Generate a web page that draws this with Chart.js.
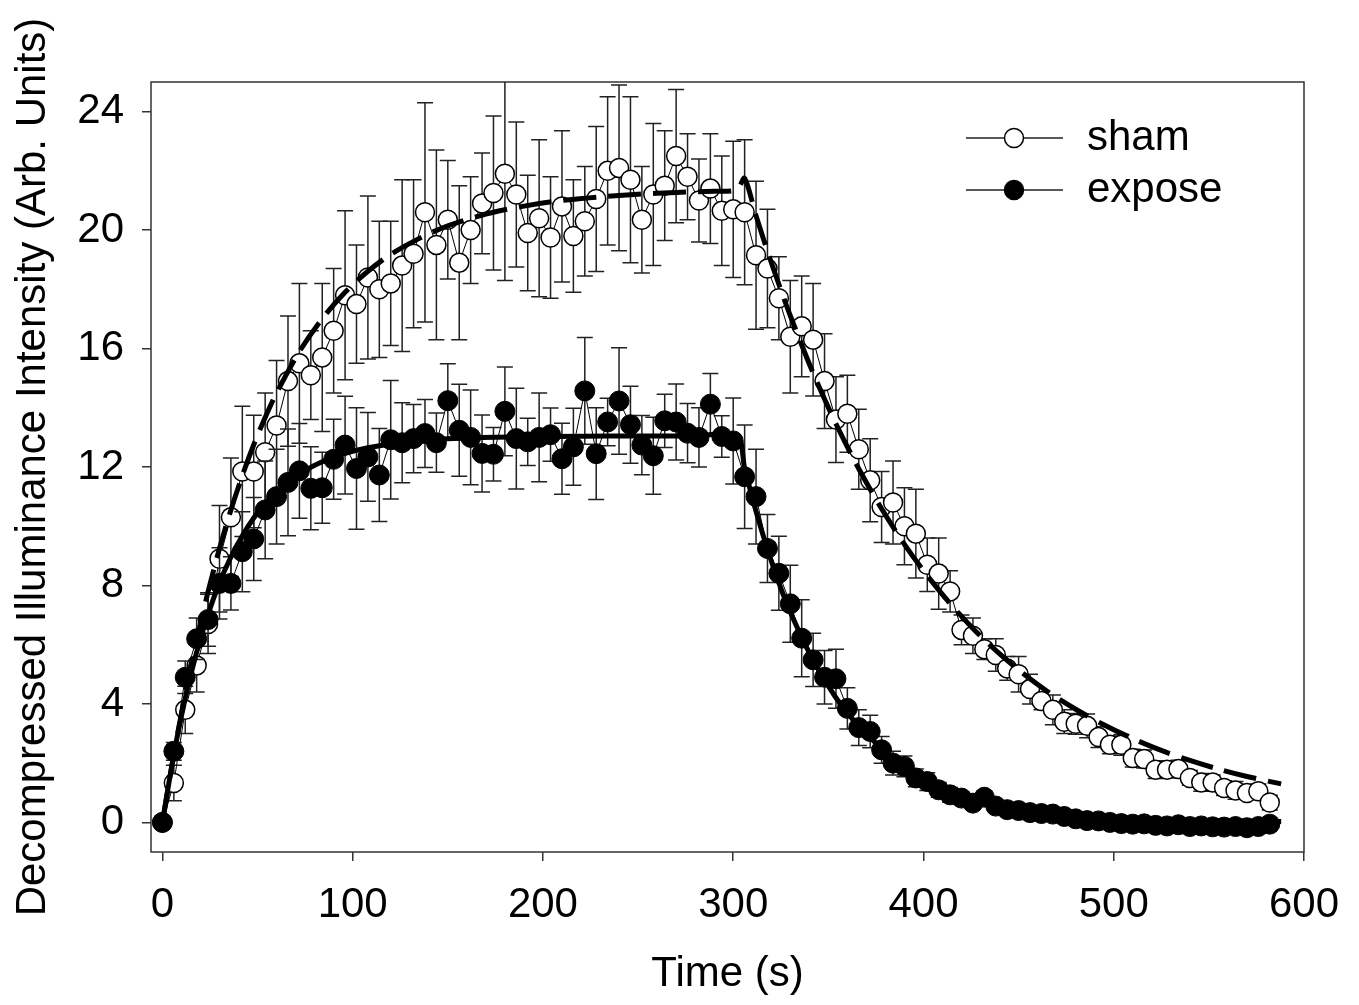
<!DOCTYPE html>
<html>
<head>
<meta charset="utf-8">
<script src="https://cdn.jsdelivr.net/npm/chart.js@4.4.1/dist/chart.umd.min.js"></script>
<style>
  body { margin: 0; background: #fff; }
  canvas { display: block; }
</style>
</head>
<body>
<canvas id="chart" width="1359" height="1005"></canvas>
<script>
// sample times (s)
const times = [0, 6, 12, 18, 24, 30, 36, 42, 48, 54, 60, 66, 72, 78, 84, 90, 96, 102, 108, 114,
  120, 126, 132, 138, 144, 150, 156, 162, 168, 174, 180, 186, 192, 198, 204, 210, 216, 222, 228, 234,
  240, 246, 252, 258, 264, 270, 276, 282, 288, 294, 300, 306, 312, 318, 324, 330, 336, 342, 348, 354,
  360, 366, 372, 378, 384, 390, 396, 402, 408, 414, 420, 426, 432, 438, 444, 450, 456, 462, 468, 474,
  480, 486, 492, 498, 504, 510, 516, 522, 528, 534, 540, 546, 552, 558, 564, 570, 576, 582];

const shamMean = [0, 1.33, 3.8, 5.3, 6.7, 8.9, 10.3, 11.85, 11.85, 12.5, 13.4, 14.9, 15.5, 15.1, 15.7, 16.6, 17.8, 17.5, 18.4, 18.0,
  18.2, 18.8, 19.2, 20.6, 19.5, 20.35, 18.9, 20.0, 20.9, 21.25, 21.9, 21.2, 19.9, 20.4, 19.75, 20.8, 19.8, 20.3, 21.05, 22.0,
  22.1, 21.7, 20.35, 21.2, 21.5, 22.5, 21.8, 21.0, 21.4, 20.65, 20.7, 20.6, 19.15, 18.7, 17.7, 16.4, 16.75, 16.3, 14.9, 13.6,
  13.8, 12.6, 11.55, 10.65, 10.8, 10.0, 9.75, 8.7, 8.4, 7.8, 6.5, 6.3, 5.85, 5.65, 5.2, 5.0, 4.5, 4.1, 3.8, 3.4,
  3.33, 3.26, 2.88, 2.62, 2.62, 2.17, 2.14, 1.78, 1.78, 1.8, 1.5, 1.35, 1.35, 1.16, 1.08, 0.99, 1.05, 0.67];

const shamErr = [0, 0.6, 0.8, 0.9, 1.0, 1.8, 2.0, 2.2, 1.9, 2.0, 2.2, 2.2, 2.7, 1.5, 2.5, 2.1, 2.85, 2.0, 2.75, 2.3,
  2.1, 2.9, 2.5, 3.7, 3.2, 2.0, 2.6, 1.8, 1.7, 2.6, 3.6, 2.45, 1.95, 2.65, 2.05, 2.55, 1.9, 1.85, 2.45, 2.5,
  2.8, 2.8, 1.8, 2.4, 1.85, 2.25, 1.45, 1.4, 1.85, 1.85, 2.3, 2.45, 2.5, 2.0, 1.4, 1.9, 1.7, 1.9, 1.6, 1.45,
  1.3, 1.35, 1.4, 1.2, 1.4, 1.3, 1.5, 0.9, 1.2, 0.7, 0.5, 0.6, 0.35, 0.55, 0.4, 0.6, 0.5, 0.3, 0.5, 0.4,
  0.35, 0.4, 0.35, 0.3, 0.35, 0.3, 0.3, 0.3, 0.25, 0.3, 0.25, 0.3, 0.25, 0.25, 0.3, 0.2, 0.25, 0.25];

const exposeMean = [0, 2.4, 4.9, 6.2, 6.85, 8.07, 8.07, 9.14, 9.57, 10.55, 11.0, 11.48, 11.87, 11.28, 11.3, 12.26, 12.74, 11.95, 12.34, 11.73,
  12.92, 12.82, 12.96, 13.13, 12.82, 14.24, 13.24, 13.0, 12.46, 12.43, 13.88, 12.96, 12.85, 13.0, 13.09, 12.28, 12.68, 14.57, 12.45, 13.52,
  14.23, 13.43, 12.74, 12.38, 13.56, 13.52, 13.14, 13.0, 14.12, 13.03, 12.88, 11.67, 11.0, 9.25, 8.41, 7.38, 6.22, 5.49, 4.9, 4.85,
  3.85, 3.2, 3.07, 2.45, 2.0, 1.89, 1.5, 1.38, 1.1, 0.93, 0.82, 0.65, 0.85, 0.55, 0.43, 0.4, 0.33, 0.3, 0.28, 0.2,
  0.12, 0.06, 0.05, 0.0, -0.04, -0.06, -0.05, -0.1, -0.12, -0.08, -0.14, -0.12, -0.15, -0.16, -0.14, -0.18, -0.14, -0.06];

const exposeErr = [0, 0.3, 0.55, 0.7, 0.9, 1.2, 0.9, 1.35, 1.4, 1.65, 1.6, 1.8, 1.6, 1.4, 1.2, 1.35, 1.65, 2.05, 1.5, 1.57,
  2.0, 1.35, 1.15, 1.15, 1.0, 1.25, 1.55, 1.6, 1.3, 0.9, 1.5, 1.7, 0.8, 1.5, 0.9, 1.2, 1.3, 1.8, 1.55, 0.8,
  1.8, 1.3, 1.0, 1.3, 0.9, 1.28, 1.0, 1.0, 1.04, 0.7, 1.45, 1.75, 1.6, 1.15, 1.25, 1.3, 1.3, 0.9, 0.9, 1.0,
  0.7, 0.6, 0.55, 0.45, 0.4, 0.35, 0.3, 0.3, 0.25, 0.25, 0.2, 0.2, 0.2, 0.15, 0.15, 0.15, 0.15, 0.12, 0.12, 0.12,
  0.12, 0.1, 0.1, 0.1, 0.1, 0.1, 0.1, 0.1, 0.1, 0.1, 0.1, 0.1, 0.1, 0.1, 0.1, 0.1, 0.1, 0.1];

// fitted curves
const shamFitTimes = [0, 6, 12, 18, 24, 30, 36, 42, 48, 54, 60, 72, 84, 96, 108, 120, 135, 150, 170, 190,
  210, 230, 250, 270, 290, 300, 303, 306, 312, 318, 324, 330, 342, 354, 366, 378, 390, 402, 414, 426,
  438, 450, 465, 480, 495, 510, 525, 540, 555, 570, 588];
const shamFit = [0, 2.29, 4.34, 6.16, 7.79, 9.25, 10.55, 11.71, 12.75, 13.67, 14.5, 15.9, 17.01, 17.9, 18.61, 19.18, 19.72, 20.14, 20.54, 20.81,
  21.0, 21.12, 21.21, 21.27, 21.31, 21.33, 21.45, 21.75, 20.48, 19.29, 18.17, 17.11, 15.17, 13.46, 11.94, 10.59, 9.39, 8.33, 7.39, 6.55,
  5.81, 5.15, 4.43, 3.82, 3.29, 2.83, 2.43, 2.09, 1.8, 1.55, 1.3];

const exposeFitTimes = [0, 6, 12, 18, 24, 30, 36, 42, 48, 54, 60, 72, 84, 96, 108, 120, 140, 160, 190, 220,
  250, 280, 302, 306, 312, 318, 324, 330, 342, 354, 366, 378, 390, 402, 414, 426, 438, 450, 470, 490,
  510, 530, 550, 570, 588];
const exposeFit = [0, 2.3, 4.19, 5.75, 7.03, 8.09, 8.96, 9.68, 10.28, 10.76, 11.17, 11.77, 12.18, 12.46, 12.65, 12.78, 12.91, 12.98, 13.02, 13.04,
  13.05, 13.05, 13.05, 11.96, 10.5, 9.22, 8.09, 7.1, 5.47, 4.21, 3.25, 2.5, 1.93, 1.48, 1.14, 0.88, 0.68, 0.52, 0.34, 0.22,
  0.14, 0.09, 0.06, 0.04, 0.03];

const xTicks = [0, 100, 200, 300, 400, 500, 600];
const yTicks = [0, 4, 8, 12, 16, 20, 24];

const FONT = "'Liberation Sans', Arial, sans-serif";

function pts(xs, ys) {
  return xs.map((t, i) => ({ x: t, y: ys[i] }));
}

const errorBars = {
  id: "errorBars",
  beforeDatasetDraw(chart, args) {
    const ds = chart.data.datasets[args.index];
    if (!ds.errors) return;
    const { ctx, chartArea, scales } = chart;
    ctx.save();
    ctx.beginPath();
    ctx.rect(chartArea.left, chartArea.top, chartArea.width, chartArea.height);
    ctx.clip();
    ctx.strokeStyle = "#222";
    ctx.lineWidth = 1.5;
    ds.data.forEach((p, i) => {
      const e = ds.errors[i];
      if (!e) return;
      const px = scales.x.getPixelForValue(p.x);
      const top = scales.y.getPixelForValue(p.y + e);
      const bot = scales.y.getPixelForValue(p.y - e);
      ctx.beginPath();
      ctx.moveTo(px, top); ctx.lineTo(px, bot);
      ctx.moveTo(px - 8, top); ctx.lineTo(px + 8, top);
      ctx.moveTo(px - 8, bot); ctx.lineTo(px + 8, bot);
      ctx.stroke();
    });
    ctx.restore();
  }
};

const frame = {
  id: "frame",
  beforeDatasetsDraw(chart) {
    const { ctx, chartArea } = chart;
    ctx.save();
    ctx.strokeStyle = "#333";
    ctx.lineWidth = 1.5;
    ctx.strokeRect(chartArea.left, chartArea.top, chartArea.width, chartArea.height);
    ctx.restore();
  }
};

const legendBox = {
  id: "legendBox",
  afterDraw(chart) {
    const { ctx, chartArea } = chart;
    const rows = [
      { label: chart.data.datasets[0].label, fill: "#fff" },
      { label: chart.data.datasets[1].label, fill: "#000" }
    ];
    ctx.save();
    rows.forEach((r, i) => {
      const y = chartArea.top + 56 + i * 52;
      const x0 = chartArea.left + 815;
      ctx.strokeStyle = "#222";
      ctx.lineWidth = 1.5;
      ctx.beginPath();
      ctx.moveTo(x0, y); ctx.lineTo(x0 + 97, y);
      ctx.stroke();
      ctx.beginPath();
      ctx.arc(x0 + 48, y, 9.5, 0, Math.PI * 2);
      ctx.fillStyle = r.fill;
      ctx.fill();
      ctx.strokeStyle = "#000";
      ctx.stroke();
      ctx.fillStyle = "#000";
      ctx.font = "42px " + FONT;
      ctx.textBaseline = "middle";
      ctx.fillText(r.label, x0 + 121, y);
    });
    ctx.restore();
  }
};

new Chart(document.getElementById("chart"), {
  type: "line",
  data: {
    datasets: [
      {
        label: "sham",
        data: pts(times, shamMean),
        errors: shamErr,
        borderColor: "#000",
        borderWidth: 1,
        pointRadius: 9.5,
        pointBackgroundColor: "#fff",
        pointBorderColor: "#000",
        pointBorderWidth: 1.5,
        order: 4
      },
      {
        label: "expose",
        data: pts(times, exposeMean),
        errors: exposeErr,
        borderColor: "#000",
        borderWidth: 1,
        pointRadius: 10,
        pointBackgroundColor: "#000",
        pointBorderColor: "#000",
        pointBorderWidth: 1,
        order: 3
      },
      {
        label: "sham fit",
        data: pts(shamFitTimes, shamFit),
        borderColor: "#000",
        borderWidth: 5,
        borderDash: [33, 12],
        pointRadius: 0,
        tension: 0.3,
        order: 2
      },
      {
        label: "expose fit",
        data: pts(exposeFitTimes, exposeFit),
        borderColor: "#000",
        borderWidth: 5,
        pointRadius: 0,
        tension: 0.3,
        order: 1
      }
    ]
  },
  options: {
    responsive: false,
    animation: false,
    devicePixelRatio: 1,
    layout: { padding: { top: 82, right: 55, left: 0, bottom: 0 } },
    plugins: {
      legend: { display: false },
      tooltip: { enabled: false }
    },
    scales: {
      x: {
        type: "linear",
        min: -6,
        max: 600,
        afterBuildTicks: (s) => { s.ticks = xTicks.map(v => ({ value: v })); },
        afterFit: (s) => { s.height = 153; },
        border: { display: false },
        grid: { drawOnChartArea: false, drawTicks: true, tickLength: 9, color: "#333", lineWidth: 1.5 },
        ticks: { font: { family: FONT, size: 42 }, color: "#000", padding: 19, maxRotation: 0 },
        title: {
          display: true,
          text: "Time (s)",
          font: { family: FONT, size: 42 },
          color: "#000",
          padding: { top: 0, bottom: 5 }
        }
      },
      y: {
        min: -1,
        max: 25,
        afterBuildTicks: (s) => { s.ticks = yTicks.map(v => ({ value: v })); },
        afterFit: (s) => { s.width = 151; },
        border: { display: false },
        grid: { drawOnChartArea: false, drawTicks: true, tickLength: 9, color: "#333", lineWidth: 1.5 },
        ticks: { font: { family: FONT, size: 42 }, color: "#000", padding: 18 },
        title: {
          display: true,
          text: "Decompressed Illuminance Intensity (Arb. Units)",
          font: { family: FONT, size: 42 },
          color: "#000",
          padding: { top: 8, bottom: 0 }
        }
      }
    }
  },
  plugins: [errorBars, frame, legendBox]
});
</script>
</body>
</html>
